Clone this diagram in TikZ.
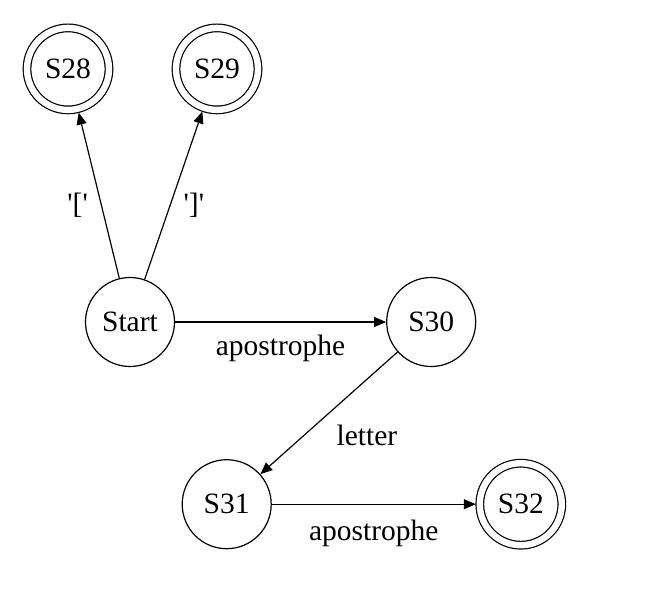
\documentclass[tikz,border=0pt]{standalone}
\usepackage{fontspec}
\setmainfont{Liberation Serif}
\usetikzlibrary{arrows.meta,positioning}
\tikzset{
  statenode/.style={circle,draw,line width=1.2pt,minimum size=89pt,inner sep=0pt,
    font=\rmfamily\fontsize{29.5}{35}\selectfont},
  acceptnode/.style={statenode,minimum size=82pt,double,double distance=6.4pt,outer sep=4pt},
  transarrow/.style={-{Triangle[length=12pt,width=10pt]},line width=1.2pt},
  translabel/.style={font=\rmfamily\fontsize{29.5}{35}\selectfont,inner sep=2pt},
}

\begin{document}
\begin{tikzpicture}
        \useasboundingbox (0,0) rectangle (646pt,-603pt);
        \node[statenode] (start) at (130pt,-322pt) {Start};
        \node[statenode,right=211pt of start] (s30) {S30};
        \node[acceptnode,above=163pt of start,xshift=-62pt] (s28) {S28};
        \node[acceptnode,above=163pt of start,xshift=87pt] (s29) {S29};
        \node[statenode,below=92pt of s30,xshift=-204.5pt] (s31) {S31};
        \node[acceptnode,right=204pt of s31] (s32) {S32};
        \draw[transarrow] (start) -- node[translabel,pos=0.44,left=11pt]
          {\textquotesingle[\textquotesingle} (s28);
        \draw[transarrow] (start) -- node[translabel,pos=0.44,right=11pt]
          {\textquotesingle]\textquotesingle} (s29);
        \draw[transarrow] (start) -- node[translabel,below=10pt] {apostrophe} (s30);
        \draw[transarrow] (s30) -- node[translabel,below right=9pt and 5pt] {letter} (s31);
        \draw[transarrow] (s31) -- node[translabel,below=13pt] {apostrophe} (s32);
      \end{tikzpicture}
\end{document}
